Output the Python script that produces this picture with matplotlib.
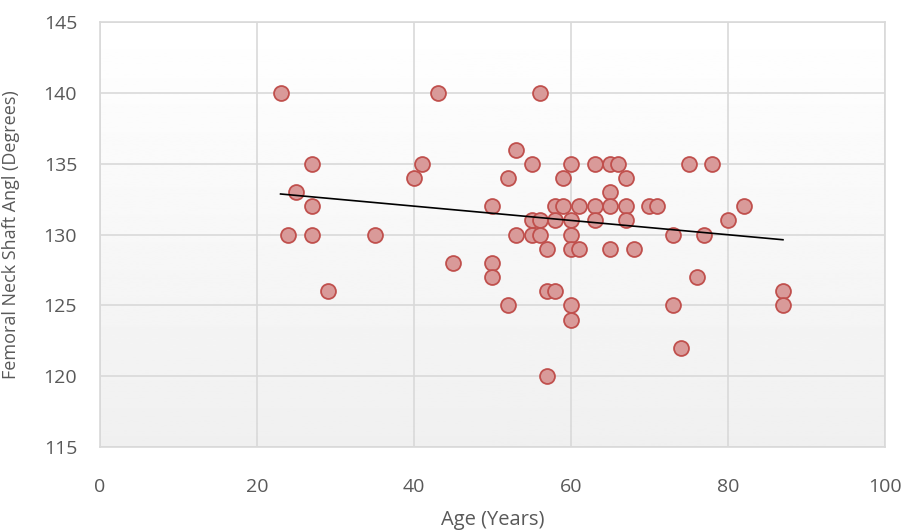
import numpy as np
import matplotlib
matplotlib.use('Agg')
import matplotlib.pyplot as plt

# values
age = [23, 24, 25, 27, 27, 27, 29, 35, 40, 41, 43, 45, 50, 50, 50, 52, 52, 53, 53,
       55, 55, 55, 56, 56, 56, 57, 57, 57, 58, 58, 58, 59, 59, 60, 60, 60, 60, 60, 60,
       61, 61, 63, 63, 63, 65, 65, 65, 65, 66, 67, 67, 67, 68, 70, 71, 73, 73, 74,
       75, 76, 77, 78, 80, 82, 87, 87]
angle = [140, 130, 133, 135, 132, 130, 126, 130, 134, 135, 140, 128, 132, 128, 127, 134, 125, 136, 130,
         135, 131, 130, 140, 131, 130, 129, 126, 120, 132, 131, 126, 134, 132, 135, 131, 130, 129, 125, 124,
         132, 129, 135, 132, 131, 135, 133, 132, 129, 135, 134, 132, 131, 129, 132, 132, 130, 125, 122,
         135, 127, 130, 135, 131, 132, 126, 125]
# trendline end values (age 23 -> 87)
trend_age = [23, 87]
trend_angle = [132.86, 129.63]
x_ticks = [0, 20, 40, 60, 80, 100]
y_ticks = [115, 120, 125, 130, 135, 140, 145]

plt.rcParams['font.family'] = ['Open Sans', 'DejaVu Sans']
txt = '#595959'
grid = '#d9d9d9'

fig = plt.figure(figsize=(9.03, 5.31), dpi=100)
ax = fig.add_axes([100 / 903, 1 - 447 / 531, 785 / 903, 425 / 531])

# plot-area gradient, white at top to light grey at bottom
grad = np.linspace(1.0, 0.94, 256).reshape(-1, 1)
ax.imshow(grad, cmap='gray', vmin=0, vmax=1, aspect='auto',
          extent=[0, 100, 115, 145], origin='upper', zorder=0)

ax.scatter(age, angle, s=115, facecolor='#d99a99', edgecolor='#c0504d',
           linewidth=1.3, zorder=3)
ax.plot(trend_age, trend_angle, color='black', linewidth=1.2, zorder=4)

ax.set_xlim(0, 100)
ax.set_ylim(115, 145)
ax.set_xticks(x_ticks)
ax.set_yticks(y_ticks)
ax.grid(True, color=grid, linewidth=1.2, zorder=1)
ax.set_axisbelow(True)
for s in ax.spines.values():
    s.set_color(grid)
    s.set_linewidth(1.2)
ax.tick_params(length=0, labelsize=14, colors=txt)
ax.tick_params(axis='x', pad=22)
ax.tick_params(axis='y', pad=16.5)
ax.set_xlabel('Age (Years)', fontsize=14.5, color=txt)
ax.set_ylabel('Femoral Neck Shaft Angl (Degrees)', fontsize=13, color=txt)
ax.xaxis.set_label_coords(0.5, -0.148)
ax.yaxis.set_label_coords(-80 / 785, 0.5)

fig.savefig('out.png', dpi=100)
